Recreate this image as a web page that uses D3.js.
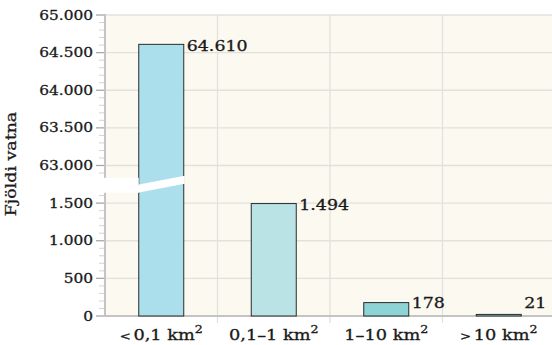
<!DOCTYPE html>
<html><head><meta charset="utf-8">
<script src="https://cdn.jsdelivr.net/npm/d3@7"></script>
<style>html,body{margin:0;padding:0;background:#fff;}svg{display:block;}</style>
</head><body>
<svg id="chart" width="552" height="345"></svg>
<script>
const categories = ["<0,1 km²", "0,1–1 km²", "1–10 km²", ">10 km²"];
const values = [64610, 1494, 178, 21];
const valueLabels = ["64.610", "1.494", "178", "21"];
const barColors = ["#acdfec", "#b9e3e5", "#8ed4d6", "#8ed4d6"];
const lowerTicks = [0, 500, 1000, 1500];
const upperTicks = [63000, 63500, 64000, 64500, 65000];
const yTitle = "Fjöldi vatna";

(function () {
const svg = d3.select("#chart");
const FONT = "DejaVu Serif";
const SX = 1.2;
const pL = 105, pR = 555, pT = 15, pB = 316;

const x = d3.scaleBand().domain(categories).range([pL, pR]).paddingInner(0).paddingOuter(0);
// broken axis: 0..1750 and 62750..65000
const y = d3.scaleLinear().domain([0, 1750, 62750, 65000]).range([pB, 184.3, 184.3, pT]);
const loc = d3.formatLocale({decimal: ",", thousands: ".", grouping: [3], currency: ["", ""]});
const fmt = loc.format(",d");

svg.append("rect").attr("x", pL).attr("y", pT).attr("width", pR - pL).attr("height", pB - pT).attr("fill", "#fcf9f1");

const majors = lowerTicks.concat(upperTicks);
svg.append("g").selectAll("line").data(majors).join("line")
  .attr("x1", pL).attr("x2", pR).attr("y1", d => y(d)).attr("y2", d => y(d))
  .attr("stroke", "#e3e1dc").attr("stroke-width", 1.3);
svg.append("g").selectAll("line").data(categories.slice(1)).join("line")
  .attr("x1", d => x(d)).attr("x2", d => x(d)).attr("y1", pT).attr("y2", pB + 7)
  .attr("stroke", "#e3e1dc").attr("stroke-width", 1.3);

const minors = [];
for (let v = 100; v <= 1700; v += 100) if (v % 500) minors.push(v);
for (let v = 62800; v < 65000; v += 100) if (v % 500) minors.push(v);
svg.append("g").selectAll("line").data(minors).join("line")
  .attr("x1", pL - 6).attr("x2", pL).attr("y1", d => y(d)).attr("y2", d => y(d))
  .attr("stroke", "#d4d4d4").attr("stroke-width", 1);
svg.append("g").selectAll("line").data(majors).join("line")
  .attr("x1", pL - 9).attr("x2", pL).attr("y1", d => y(d)).attr("y2", d => y(d))
  .attr("stroke", "#a8a8a8").attr("stroke-width", 1.3);

svg.append("line").attr("x1", pL).attr("x2", pL).attr("y1", pT - 1).attr("y2", pB + 1)
  .attr("stroke", "#c4c4c4").attr("stroke-width", 2);
svg.append("line").attr("x1", pL - 1).attr("x2", pR).attr("y1", pB).attr("y2", pB)
  .attr("stroke", "#c4c4c4").attr("stroke-width", 2);

const bw = x.bandwidth() * 0.4;
svg.append("g").selectAll("rect").data(values).join("rect")
  .attr("x", (d, i) => x(categories[i]) + (x.bandwidth() - bw) / 2)
  .attr("y", d => y(d))
  .attr("width", bw)
  .attr("height", d => pB - y(d))
  .attr("fill", (d, i) => barColors[i])
  .attr("stroke", "#2a2a2a").attr("stroke-width", 1);

const b0 = x(categories[0]) + (x.bandwidth() - bw) / 2, b1 = b0 + bw;
const yb = (y(1500) + y(63000)) / 2;
svg.append("rect").attr("x", pL - 6).attr("y", yb - 6.5).attr("width", b0 - pL + 6).attr("height", 15).attr("fill", "#fff");
svg.append("polygon").attr("points", [
  [b0 - 1, yb + 0.5], [b1 + 1, yb - 8.5], [b1 + 1, yb - 0.5], [b0 - 1, yb + 8.5]
].map(p => p.join(",")).join(" ")).attr("fill", "#fff");

function stext(g, tx, ty, size, anchor) {
  return g.append("text").attr("transform", `translate(${tx},${ty}) scale(${SX},1)`)
    .attr("font-family", FONT).attr("font-size", size).attr("fill", "#1a1a1a")
    .attr("stroke", "#1a1a1a").attr("stroke-width", 0.3).attr("text-anchor", anchor);
}

majors.forEach(v => {
  stext(svg, 93, y(v) + 4.6, 12.8, "end").text(fmt(v));
});

values.forEach((v, i) => {
  const xr = x(categories[i]) + (x.bandwidth() + bw) / 2 + 3;
  const ty = Math.min(y(v) + 6.5, pB - 8);
  stext(svg, xr, ty, 14.5, "start").text(valueLabels[i]);
});

categories.forEach(c => {
  const t = stext(svg, x(c) + x.bandwidth() / 2, 339.5, 14.8, "middle");
  let s = c.replace("²", "");
  const m = s.match(/^([<>])(.*)$/);
  if (m) {
    t.append("tspan").attr("font-size", 11).text(m[1] + "\u2009");
    s = m[2];
  }
  t.append("tspan").text(s);
  t.append("tspan").attr("font-size", 10.5).attr("dy", -7).text("2");
});

svg.append("text").attr("transform", `translate(16,164) rotate(-90) scale(${SX},1)`)
  .attr("font-family", FONT).attr("font-size", 14.5).attr("fill", "#1a1a1a")
  .attr("stroke", "#1a1a1a").attr("stroke-width", 0.3).attr("text-anchor", "middle")
  .text(yTitle);
})();
</script>
</body></html>
